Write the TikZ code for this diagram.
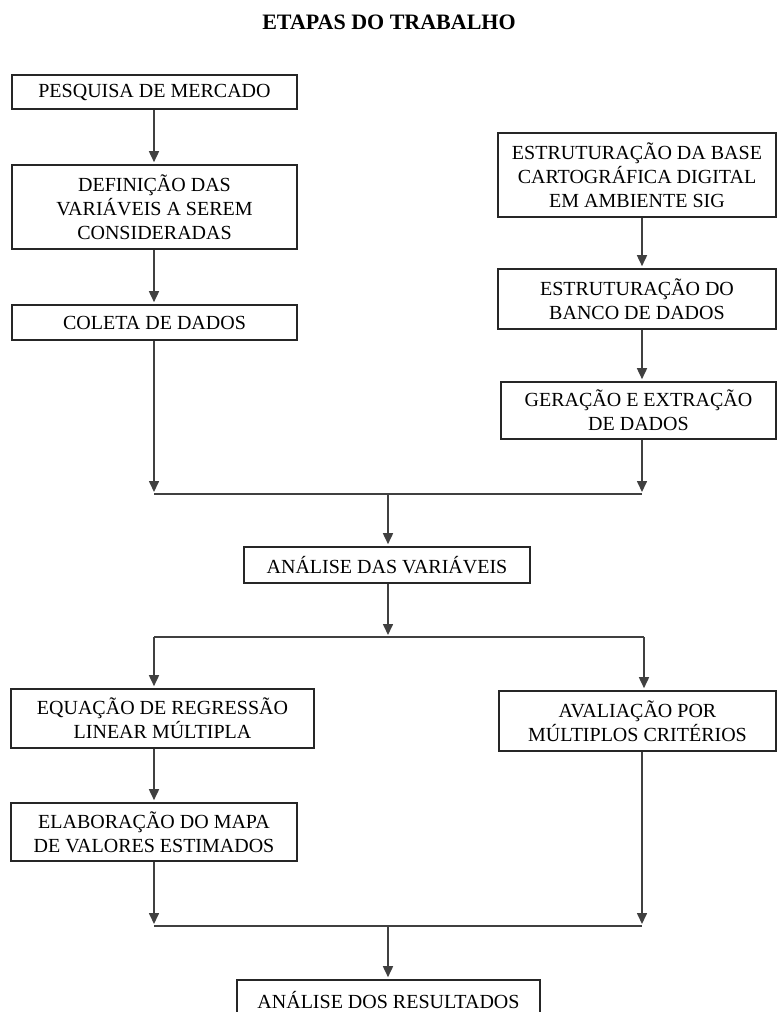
\documentclass[tikz,border=0pt]{standalone}
\usepackage{fontspec}
\setmainfont{Liberation Serif}
\usetikzlibrary{arrows.meta}
\tikzset{
	etapa/.style={draw=black!85,line width=1.6pt,align=center,inner sep=0pt,font=\fontsize{20}{24}\selectfont},
	seta/.style={-{Triangle[width=10pt,length=11pt]},draw=black!75,line width=1.6pt,shorten >=2pt},
	linha/.style={draw=black!75,line width=1.6pt}
}

\begin{document}
\begin{tikzpicture}[x=1pt,y=-1pt]
	\useasboundingbox (0,0) rectangle (778,1012);
	\node[font=\bfseries\fontsize{22}{26}\selectfont] (titulo) at (389,22) {ETAPAS DO TRABALHO};
	% coluna da esquerda
	\node[etapa,minimum width=285,minimum height=34] (pesquisa) at (154.5,92) {PESQUISA DE MERCADO};
	\node[etapa,minimum width=285,minimum height=84] (definicao) at (154.5,207) {DEFINIÇÃO DAS\\VARIÁVEIS A SEREM\\CONSIDERADAS};
	\node[etapa,minimum width=285,minimum height=35] (coleta) at (154.5,322.5) {COLETA DE DADOS};
	% coluna da direita
	\node[etapa,minimum width=278,minimum height=84] (base) at (637,175) {ESTRUTURAÇÃO DA BASE\\CARTOGRÁFICA DIGITAL\\EM AMBIENTE SIG};
	\node[etapa,minimum width=278,minimum height=60] (banco) at (637,299) {ESTRUTURAÇÃO DO\\BANCO DE DADOS};
	\node[etapa,minimum width=275,minimum height=57] (geracao) at (638.5,410.5) {GERAÇÃO E EXTRAÇÃO\\DE DADOS};
	\node[etapa,minimum width=286,minimum height=36] (analise) at (387,565) {ANÁLISE DAS VARIÁVEIS};
	\node[etapa,minimum width=303,minimum height=59] (equacao) at (162.5,718.5) {EQUAÇÃO DE REGRESSÃO\\LINEAR MÚLTIPLA};
	\node[etapa,minimum width=277,minimum height=60] (avaliacao) at (637.5,721) {AVALIAÇÃO POR\\MÚLTIPLOS CRITÉRIOS};
	\node[etapa,minimum width=286,minimum height=58] (mapa) at (154,832) {ELABORAÇÃO DO MAPA\\DE VALORES ESTIMADOS};
	\node[etapa,minimum width=303,minimum height=40] (resultados) at (388.5,1000) {ANÁLISE DOS RESULTADOS};
	% pontos de juncao
	\coordinate (j1l) at (154,494);
	\coordinate (j1r) at (642,494);
	\coordinate (j1) at (388,494);
	\coordinate (j2l) at (154,637);
	\coordinate (j2r) at (644,637);
	\coordinate (j2) at (388,637);
	\coordinate (j3l) at (154,926);
	\coordinate (j3r) at (642,926);
	\coordinate (j3) at (388,926);
	\draw[seta] (pesquisa.south -| j1l) -- (definicao.north -| j1l);
	\draw[seta] (definicao.south -| j1l) -- (coleta.north -| j1l);
	\draw[seta] (base.south -| j1r) -- (banco.north -| j1r);
	\draw[seta] (banco.south -| j1r) -- (geracao.north -| j1r);
	\draw[seta] (coleta.south -| j1l) -- (j1l);
	\draw[seta] (geracao.south -| j1r) -- (j1r);
	\draw[linha] (j1l) -- (j1r);
	\draw[seta] (j1) -- (j1 |- analise.north);
	\draw[seta] (analise.south -| j2) -- (j2);
	\draw[linha] (j2l) -- (j2r);
	\draw[seta] (j2l) -- (j2l |- equacao.north);
	\draw[seta] (j2r) -- (j2r |- avaliacao.north);
	\draw[seta] (equacao.south -| j3l) -- (mapa.north -| j3l);
	\draw[seta] (mapa.south -| j3l) -- (j3l);
	\draw[seta] (avaliacao.south -| j3r) -- (j3r);
	\draw[linha] (j3l) -- (j3r);
	\draw[seta] (j3) -- (j3 |- resultados.north);
\end{tikzpicture}
\end{document}
